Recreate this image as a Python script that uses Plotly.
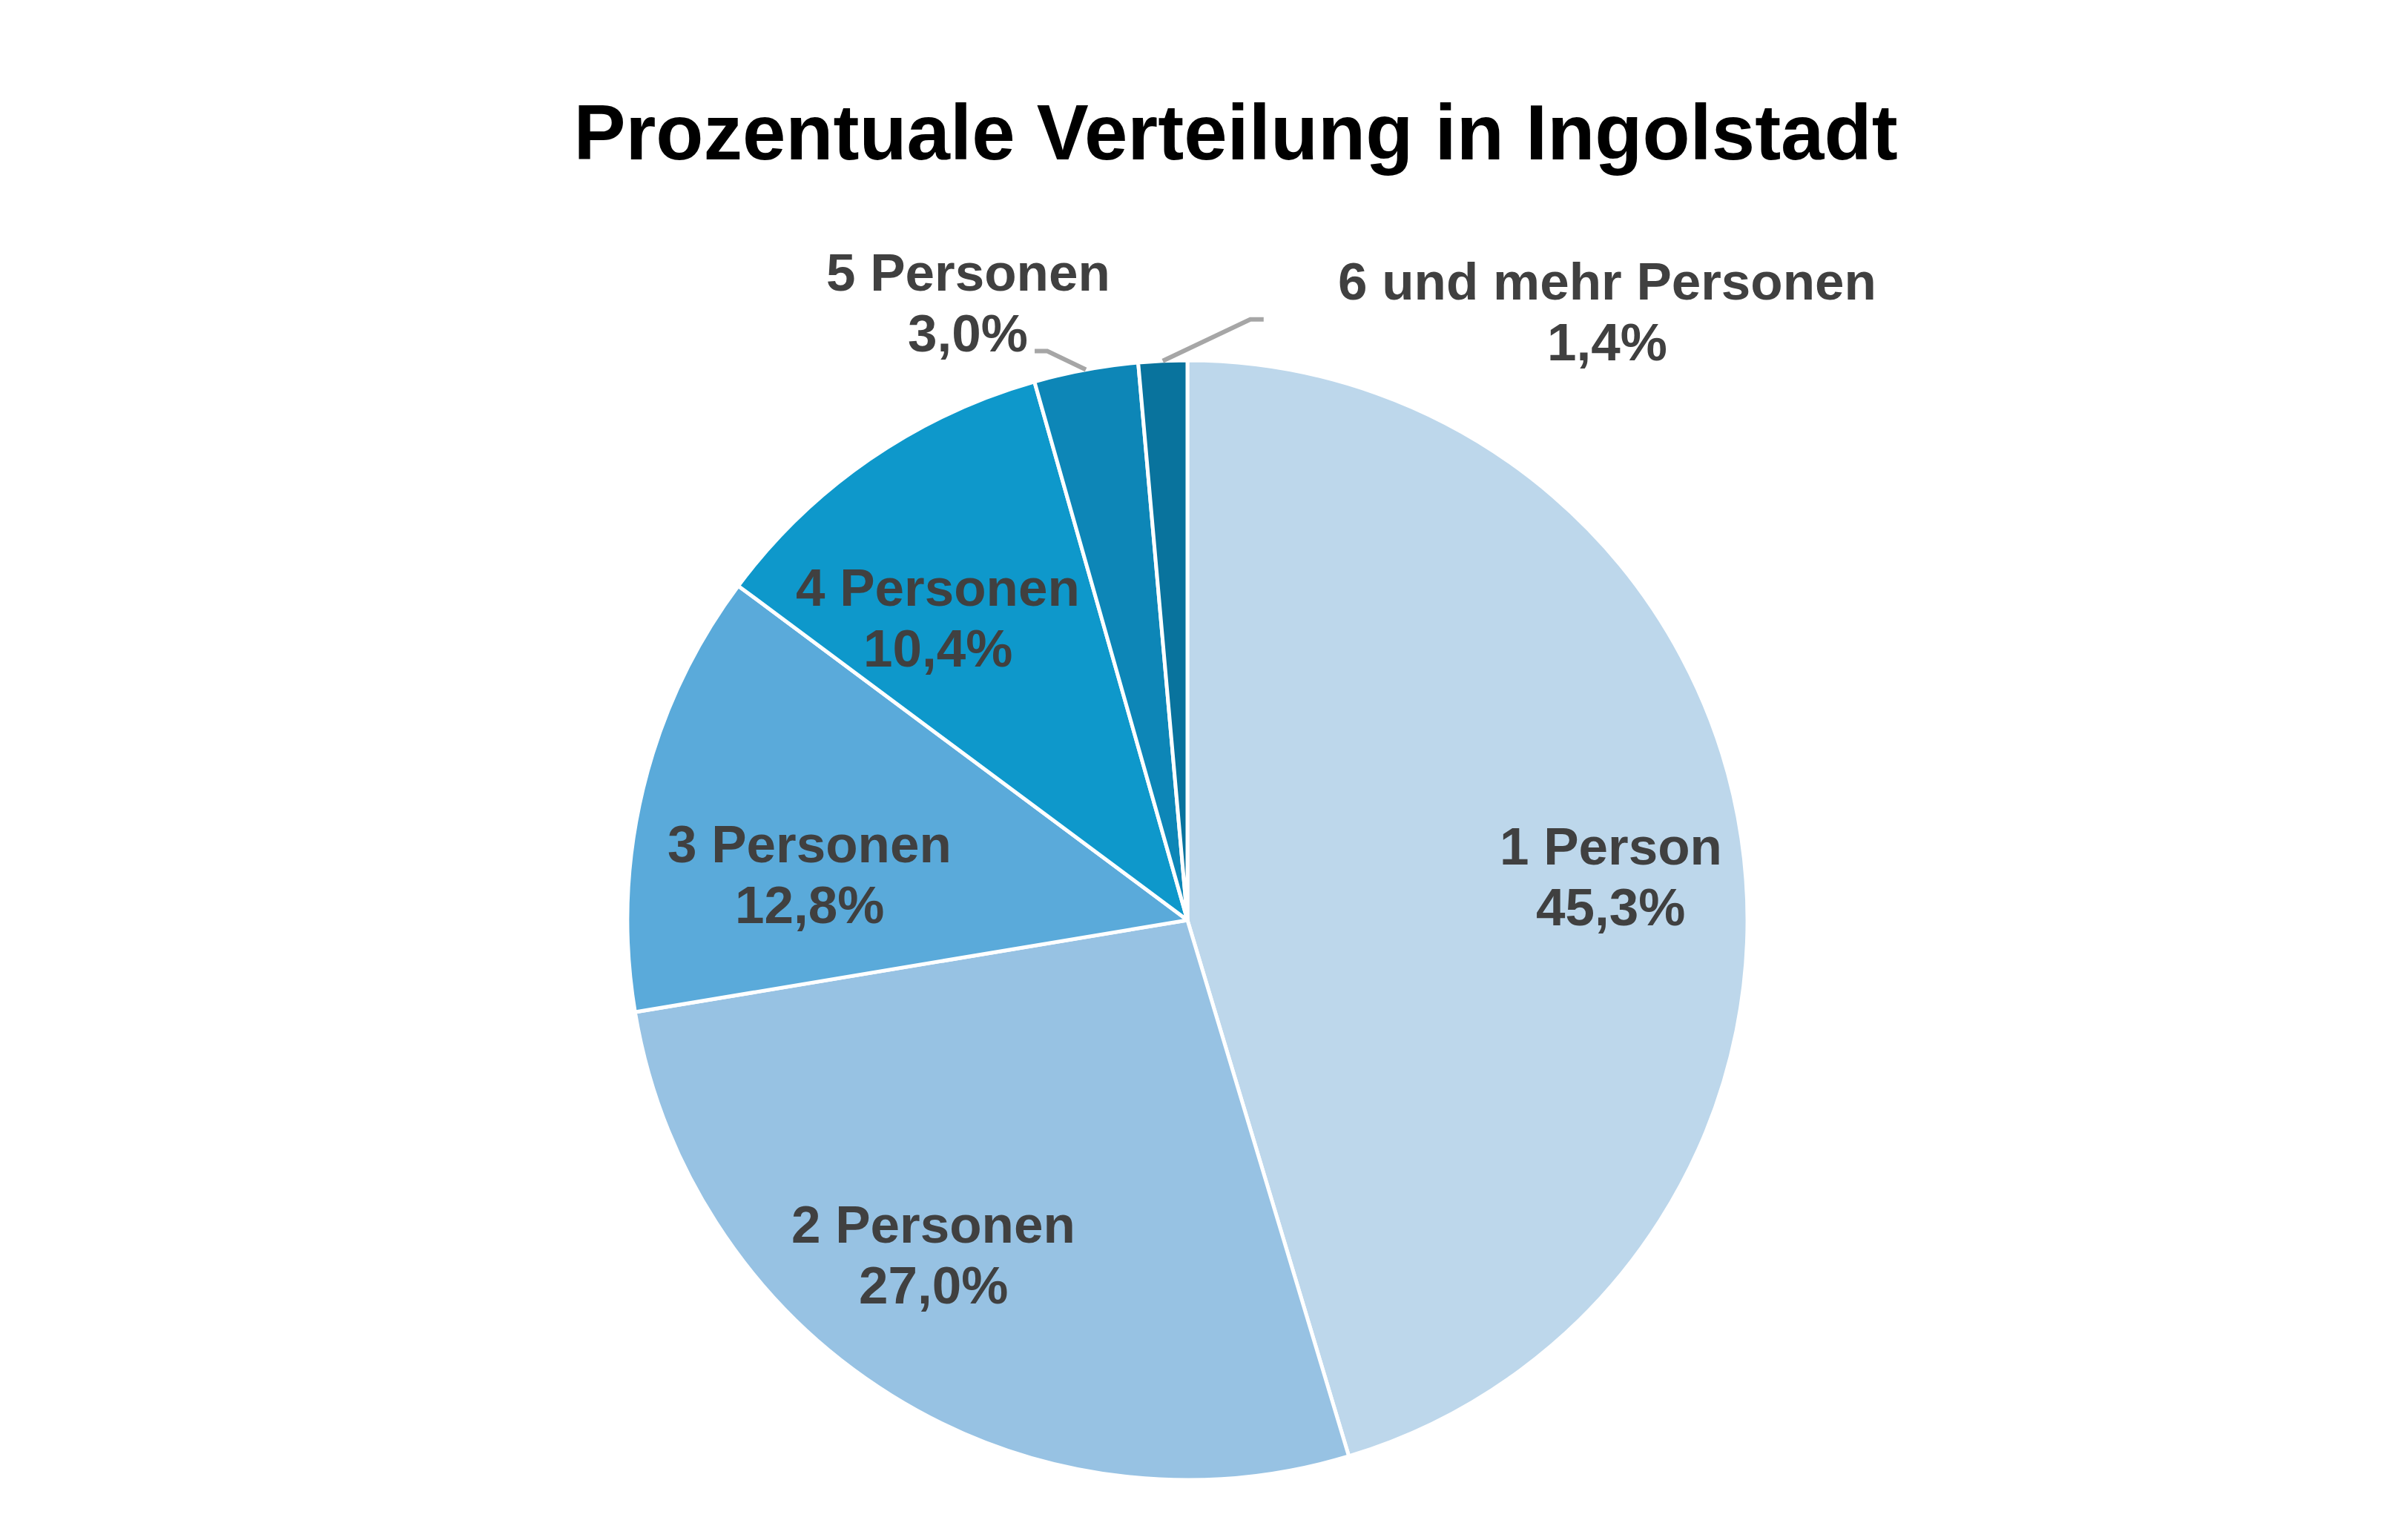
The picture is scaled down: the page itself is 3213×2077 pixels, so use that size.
import math
import plotly.graph_objects as go

# household sizes in Ingolstadt, share in percent
categories = ["1 Person", "2 Personen", "3 Personen", "4 Personen",
              "5 Personen", "6 und mehr Personen"]
shares = [45.3, 27.0, 12.8, 10.4, 3.0, 1.4]
colors = ["#BDD7EB", "#97C2E3", "#5AAADA", "#0E98CB", "#0D86B7", "#09739D"]

W, H = 3213, 2077
ML, MR, MT, MB = 0, 27, 478, 89
PW, PH = W - ML - MR, H - MT - MB
R = min(PW, PH) / 2

FONT = "Liberation Sans, Arial, sans-serif"
TXT = "#404040"

# where each label block sits: (radius factor, extra angle in degrees)
label_pos = [(0.76, 2.5), (0.75, 5.3), (0.68, -6.7), (0.70, -5.0),
             (1.17, -9.1), (1.32, 37.1)]
LINE_GAP = 41  # half distance between the two label lines, px


def to_paper(angle, r_px, dy_px=0):
    a = math.radians(angle)
    x = 0.5 + r_px * math.sin(a) / PW
    y = 0.5 + (r_px * math.cos(a) + dy_px) / PH
    return x, y


def fmt(v):
    return f"{v:.1f}".replace(".", ",") + "%"


total = sum(shares)
mids = []
acc = 0
for v in shares:
    mids.append((acc + v / 2) / total * 360)
    acc += v

fig = go.Figure(go.Pie(
    labels=categories,
    values=shares,
    sort=False,
    direction="clockwise",
    rotation=0,
    textinfo="none",
    hoverinfo="label+percent",
    marker=dict(colors=colors, line=dict(color="white", width=5)),
    showlegend=False,
))

annotations = []
for name, v, mid, (rf, da) in zip(categories, shares, mids, label_pos):
    for text, dy in ((name, LINE_GAP), (fmt(v), -LINE_GAP)):
        x, y = to_paper(mid + da, rf * R, dy)
        annotations.append(dict(
            x=x, y=y, xref="paper", yref="paper", showarrow=False,
            text=f"<b>{text}</b>", xanchor="center", yanchor="middle",
            font=dict(family=FONT, size=71, color=TXT),
        ))

# leader lines for the two small outside slices: edge -> elbow -> stub
leaders = {4: [(0, 0), (-52, 25), (-69, 25)],
           5: [(0, 0), (118, 56), (136, 56)]}
shapes = []
for i, pts in leaders.items():
    ex, ey = to_paper(mids[i], R)
    path = ""
    for k, (dx, dy) in enumerate(pts):
        px = ex + dx / PW
        py = ey + dy / PH
        path += ("M" if k == 0 else "L") + f"{px:.5f},{py:.5f} "
    shapes.append(dict(type="path", xref="paper", yref="paper", path=path,
                       line=dict(color="#A6A6A6", width=6)))

fig.update_layout(
    width=W, height=H,
    margin=dict(l=ML, r=MR, t=MT, b=MB),
    paper_bgcolor="white",
    plot_bgcolor="white",
    title=dict(
        text="<b>Prozentuale Verteilung in Ingolstadt</b>",
        x=1658 / W, xanchor="center", y=1 - 170 / H, yanchor="middle",
        xref="container", yref="container",
        font=dict(family=FONT, size=105, color="black"),
    ),
    annotations=annotations,
    shapes=shapes,
)

fig.write_html("out.html")
